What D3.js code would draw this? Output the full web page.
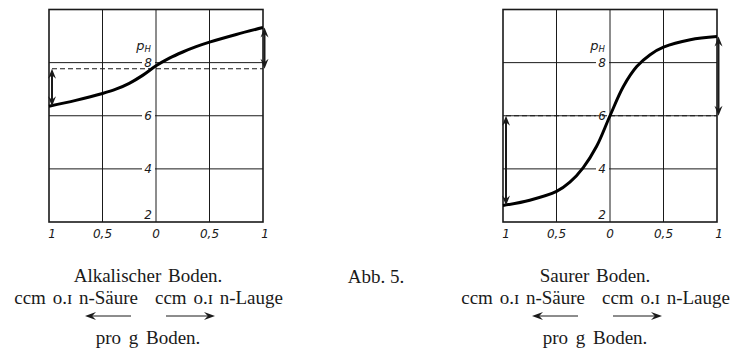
<!DOCTYPE html>
<html>
<head>
<meta charset="utf-8">
<script src="https://cdn.jsdelivr.net/npm/d3@7"></script>
<style>
  body { margin: 0; background: #fff; }
  svg { display: block; }
</style>
</head>
<body>
<svg width="736" height="350"></svg>
<script>
// ccm 0.1 n acid (left half) / 0.1 n lye (right half) per g soil
var titrX = [-1, -0.75, -0.5, -0.375, -0.25, -0.125, 0, 0.125, 0.25, 0.375, 0.5, 0.75, 1];
var alkalinePH = [6.36, 6.58, 6.84, 7.0, 7.22, 7.52, 7.88, 8.17, 8.4, 8.6, 8.77, 9.06, 9.32];
var acidPH = [2.62, 2.82, 3.15, 3.5, 4.05, 4.85, 6.0, 7.1, 7.85, 8.3, 8.58, 8.86, 8.98];
var alkalineStart = 7.77;
var acidStart = 6.0;

var xTicks = [-1, -0.5, 0, 0.5, 1];
var xTickLabels = ["1", "0,5", "0", "0,5", "1"];
var phTicks = [2, 4, 6, 8];

var titles = ["Alkalischer Boden.", "Saurer Boden."];
var unitLeft = "ccm o.ɪ n-Säure";
var unitRight = "ccm o.ɪ n-Lauge";
var unitBottom = "pro g Boden.";
var figLabel = "Abb. 5.";

var svg = d3.select("svg");
var ink = "#1a1a1a";
var serif = "Liberation Serif";

function arrowHead(g, x, y, dir, len, half) {
  len = len || 9; half = half || 3.5;
  var p;
  if (dir == "down") p = [[x, y], [x - half, y - len], [x, y - len * 0.65], [x + half, y - len]];
  if (dir == "up") p = [[x, y], [x - half, y + len], [x, y + len * 0.65], [x + half, y + len]];
  if (dir == "left") p = [[x, y], [x + len, y - half], [x + len * 0.65, y], [x + len, y + half]];
  if (dir == "right") p = [[x, y], [x - len, y - half], [x - len * 0.65, y], [x - len, y + half]];
  g.append("path")
    .attr("d", "M" + p.join("L") + "Z")
    .attr("fill", ink);
}

function panel(left, curvePH, startPH, c, title) {
  var x = d3.scaleLinear().domain([-1, 1]).range([left, left + 214]);
  var y = d3.scaleLinear().domain([2, 10]).range([222, 9.5]);
  var g = svg.append("g");

  // grid
  g.selectAll(".vgrid")
    .data(xTicks.slice(1, -1))
    .enter().append("line")
    .attr("x1", function(d) { return x(d); })
    .attr("x2", function(d) { return x(d); })
    .attr("y1", y(10)).attr("y2", y(2))
    .attr("stroke", ink).attr("stroke-width", 1);
  g.selectAll(".hgrid")
    .data(phTicks.slice(1))
    .enter().append("line")
    .attr("x1", x(-1)).attr("x2", x(1))
    .attr("y1", function(d) { return y(d); })
    .attr("y2", function(d) { return y(d); })
    .attr("stroke", ink).attr("stroke-width", 1);

  // pH labels sit in a gap just left of the 0 line
  var yl = g.selectAll(".ylab")
    .data(phTicks)
    .enter().append("g");
  yl.append("rect")
    .attr("x", x(0) - 14).attr("width", 13)
    .attr("y", function(d) { return d == 2 ? y(d) - 15 : y(d) - 7; })
    .attr("height", function(d) { return d == 2 ? 14 : 14; })
    .attr("fill", "#fff");
  yl.append("text")
    .attr("x", x(0) - 4)
    .attr("y", function(d) { return d == 2 ? y(d) - 3 : y(d) + 4.5; })
    .attr("text-anchor", "end")
    .attr("font-family", "DejaVu Sans")
    .attr("font-style", "italic")
    .attr("font-size", 12)
    .attr("fill", ink)
    .text(function(d) { return d; });

  var ph = g.append("text")
    .attr("x", x(0) - 5).attr("y", y(8) - 13)
    .attr("text-anchor", "end")
    .attr("font-family", "DejaVu Sans")
    .attr("font-style", "italic")
    .attr("font-size", 13)
    .attr("fill", ink);
  ph.append("tspan").text("p");
  ph.append("tspan").attr("font-size", 8.5).attr("dy", 2).text("H");

  // frame
  g.append("rect")
    .attr("x", x(-1)).attr("y", y(10))
    .attr("width", x(1) - x(-1)).attr("height", y(2) - y(10))
    .attr("fill", "none").attr("stroke", ink).attr("stroke-width", 1.6);

  // x labels
  g.selectAll(".xlab")
    .data(xTicks)
    .enter().append("text")
    .attr("x", function(d, i) { return x(d) + (i == 0 ? 3 : i == 4 ? 2 : 0); })
    .attr("y", 238)
    .attr("text-anchor", "middle")
    .attr("font-family", "DejaVu Sans")
    .attr("font-style", "italic")
    .attr("font-size", 12)
    .attr("fill", ink)
    .text(function(d, i) { return xTickLabels[i]; });

  // starting pH (dashed)
  g.append("line")
    .attr("x1", x(-1) + 3).attr("x2", x(1))
    .attr("y1", y(startPH)).attr("y2", y(startPH))
    .attr("stroke", ink).attr("stroke-width", 1.2)
    .attr("stroke-dasharray", "5,3");

  // titration curve
  var line = d3.line()
    .x(function(d, i) { return x(titrX[i]); })
    .y(function(d) { return y(d); })
    .curve(d3.curveCatmullRom);
  g.append("path")
    .datum(curvePH)
    .attr("d", line)
    .attr("fill", "none")
    .attr("stroke", "#000")
    .attr("stroke-width", 3);

  // shift arrows
  var ax1 = x(-1) + 3, ay1 = y(startPH), ay2 = y(curvePH[0]);
  g.append("line").attr("x1", ax1).attr("x2", ax1).attr("y1", ay1 + 4).attr("y2", ay2 - 4)
    .attr("stroke", ink).attr("stroke-width", 2);
  arrowHead(g, ax1, ay1, "up", 10, 4);
  arrowHead(g, ax1, ay2, "down", 10, 4);

  var ax2 = x(1) + 1.5, by1 = y(curvePH[curvePH.length - 1]), by2 = y(startPH);
  g.append("line").attr("x1", ax2).attr("x2", ax2).attr("y1", by1 + 4).attr("y2", by2 - 4)
    .attr("stroke", ink).attr("stroke-width", 2);
  arrowHead(g, ax2, by1, "up", 10, 4);
  arrowHead(g, ax2, by2, "down", 10, 4);

  // caption
  g.append("text")
    .attr("x", c).attr("y", 282)
    .attr("text-anchor", "middle")
    .attr("font-family", serif).attr("font-size", 19).attr("word-spacing", 2)
    .attr("fill", ink).text(title);
  g.append("text")
    .attr("x", c - 10).attr("y", 304)
    .attr("text-anchor", "end")
    .attr("font-family", serif).attr("font-size", 19).attr("word-spacing", 2)
    .attr("fill", ink).text(unitLeft);
  g.append("text")
    .attr("x", c + 7).attr("y", 304)
    .attr("text-anchor", "start")
    .attr("font-family", serif).attr("font-size", 19).attr("word-spacing", 2)
    .attr("fill", ink).text(unitRight);
  g.append("line")
    .attr("x1", c - 60).attr("x2", c - 17).attr("y1", 316).attr("y2", 316)
    .attr("stroke", ink).attr("stroke-width", 1);
  arrowHead(g, c - 63, 316, "left", 11, 4);
  g.append("line")
    .attr("x1", c + 18).attr("x2", c + 64).attr("y1", 316).attr("y2", 316)
    .attr("stroke", ink).attr("stroke-width", 1);
  arrowHead(g, c + 67, 316, "right", 11, 4);
  g.append("text")
    .attr("x", c).attr("y", 344)
    .attr("text-anchor", "middle")
    .attr("font-family", serif).attr("font-size", 19).attr("word-spacing", 3)
    .attr("fill", ink).text(unitBottom);
}

panel(49, alkalinePH, alkalineStart, 148, titles[0]);
panel(503, acidPH, acidStart, 595, titles[1]);

svg.append("text")
  .attr("x", 376).attr("y", 283)
  .attr("text-anchor", "middle")
  .attr("font-family", serif).attr("font-size", 19)
  .attr("fill", ink).text(figLabel);
</script>
</body>
</html>
